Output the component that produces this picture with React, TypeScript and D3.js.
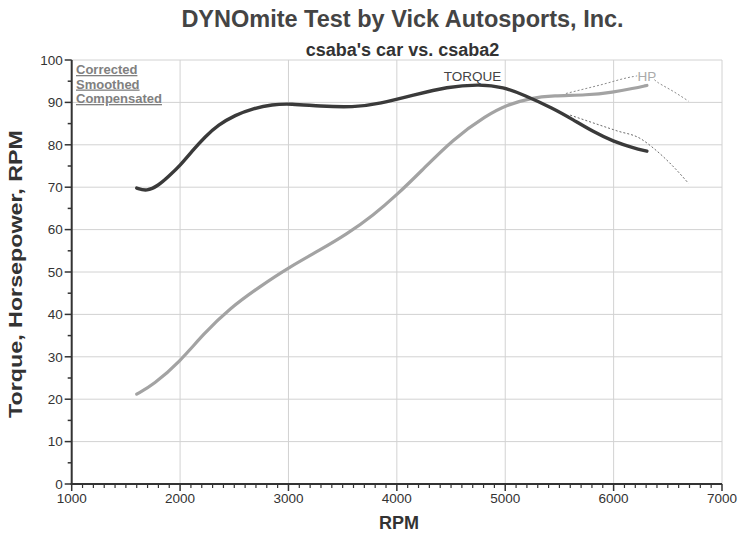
import React from "react";
import * as d3 from "d3";

const W = 750;
const H = 541;

const xTicks = [1000, 2000, 3000, 4000, 5000, 6000, 7000];
const yTicks = [0, 10, 20, 30, 40, 50, 60, 70, 80, 90, 100];
const legendLabels = ["Corrected", "Smoothed", "Compensated"];

const torqueRpm = [1600, 1692, 1800, 1892, 2000, 2107, 2230, 2353, 2507, 2676, 2850, 3015, 3292, 3596, 3845, 4153, 4461, 4768, 4984, 5168, 5442, 5627, 5811, 5996, 6181, 6307];
const torqueVal = [69.8, 69.0, 70.4, 72.5, 75.1, 78.4, 81.9, 84.7, 87.0, 88.6, 89.5, 89.7, 89.1, 88.8, 89.7, 91.7, 93.7, 94.3, 93.6, 91.8, 88.6, 85.9, 83.1, 80.8, 79.3, 78.5];

const hpRpm = [1600, 1753, 2000, 2215, 2461, 2738, 3005, 3292, 3538, 3784, 4000, 4218, 4520, 4830, 5015, 5230, 5442, 5753, 5996, 6181, 6307];
const hpVal = [21.2, 23.4, 28.9, 35.4, 41.5, 46.6, 51.1, 55.2, 58.9, 63.4, 68.2, 73.6, 81.4, 87.0, 89.4, 91.0, 91.6, 91.7, 92.4, 93.3, 94.0];

const hp2Rpm = [5560, 5875, 6183, 6300, 6414, 6550, 6691];
const hp2Val = [92.1, 94.1, 96.1, 96.5, 94.6, 92.6, 90.3];

const tq2Rpm = [5599, 6030, 6245, 6368, 6553, 6691];
const tq2Val = [87.0, 83.3, 81.5, 79.2, 74.8, 70.9];

const FONT = "Liberation Sans, Arial, sans-serif";

export default function App() {
  const x = d3.scaleLinear().domain([1000, 7000]).range([71.7, 722]);
  const y = d3.scaleLinear().domain([0, 100]).range([484, 60]);

  const smooth = d3
    .line<[number, number]>()
    .x((d) => x(d[0]))
    .y((d) => y(d[1]))
    .curve(d3.curveBasis);

  const dotted = d3
    .line<[number, number]>()
    .x((d) => x(d[0]))
    .y((d) => y(d[1]))
    .curve(d3.curveMonotoneX);

  const zip = (a: number[], b: number[]) => a.map((v, i) => [v, b[i]] as [number, number]);

  const minorX = d3.range(1000, 7001, 100).filter((v) => v % 1000 !== 0);
  const minorY = d3.range(5, 100, 10);

  const [x0, x1] = x.range();
  const [y0, y1] = y.range();

  return (
    <svg width={W} height={H} style={{ position: "absolute", left: 0, top: 0, background: "#fff" }} fontFamily={FONT}>
      <rect x={0} y={0} width={W} height={H} fill="#fff" />
      {/* grid */}
      {xTicks.map((t) => (
        <line key={"gx" + t} x1={x(t)} x2={x(t)} y1={y1} y2={y0} stroke="#d2d2d2" strokeWidth={1} />
      ))}
      {yTicks.map((t) => (
        <line key={"gy" + t} x1={x0} x2={x1} y1={y(t)} y2={y(t)} stroke="#d2d2d2" strokeWidth={1} />
      ))}
      {/* axes */}
      <line x1={x0} x2={x0} y1={y1} y2={y0 + 1} stroke="#333" strokeWidth={2} />
      <line x1={x0 - 1} x2={x1} y1={y0} y2={y0} stroke="#333" strokeWidth={2} />
      {yTicks.map((t) => (
        <g key={"ty" + t}>
          <line x1={x0 - 7} x2={x0} y1={y(t)} y2={y(t)} stroke="#333" strokeWidth={1.5} />
          <text x={x0 - 9} y={y(t) + 4.8} textAnchor="end" fontSize={13.5} fill="#333">
            {t}
          </text>
        </g>
      ))}
      {minorY.map((t) => (
        <line key={"my" + t} x1={x0 - 4} x2={x0} y1={y(t)} y2={y(t)} stroke="#333" strokeWidth={1.5} />
      ))}
      {xTicks.map((t) => (
        <g key={"tx" + t}>
          <line x1={x(t)} x2={x(t)} y1={y0} y2={y0 + 7} stroke="#333" strokeWidth={1.5} />
          <text x={x(t)} y={y0 + 18.5} textAnchor="middle" fontSize={13.5} fill="#333">
            {t}
          </text>
        </g>
      ))}
      {minorX.map((t) => (
        <line key={"mx" + t} x1={x(t)} x2={x(t)} y1={y0} y2={y0 + 4} stroke="#333" strokeWidth={1.2} />
      ))}
      {/* dotted second run */}
      <path d={dotted(zip(hp2Rpm, hp2Val)) || ""} fill="none" stroke="#8a8a8a" strokeWidth={1} strokeDasharray="2,2" />
      <path d={dotted(zip(tq2Rpm, tq2Val)) || ""} fill="none" stroke="#6a6a6a" strokeWidth={1} strokeDasharray="2,2" />
      {/* main curves */}
      <path d={smooth(zip(hpRpm, hpVal)) || ""} fill="none" stroke="#a3a3a3" strokeWidth={3.2} strokeLinecap="round" />
      <path d={smooth(zip(torqueRpm, torqueVal)) || ""} fill="none" stroke="#3a3a3a" strokeWidth={3.4} strokeLinecap="round" />
      {/* curve labels */}
      <text x={472.5} y={80.5} textAnchor="middle" fontSize={13.5} fill="#444">
        TORQUE
      </text>
      <text x={647} y={80.5} textAnchor="middle" fontSize={13.5} fill="#aaa" stroke="#fff" strokeWidth={3} paintOrder="stroke">
        HP
      </text>
      {/* legend */}
      {legendLabels.map((l, i) => (
        <text key={l} x={76} y={74 + i * 14.5} fontSize={13} fontWeight="bold" fill="#808080" textDecoration="underline">
          {l}
        </text>
      ))}
      {/* titles */}
      <text x={402.5} y={26.7} textAnchor="middle" fontSize={23.5} fontWeight="bold" fill="#444">
        DYNOmite Test by Vick Autosports, Inc.
      </text>
      <text x={402.5} y={55.5} textAnchor="middle" fontSize={18} fontWeight="bold" fill="#333">
        csaba's car vs. csaba2
      </text>
      <text x={399} y={529} textAnchor="middle" fontSize={18} fontWeight="bold" fill="#333">
        RPM
      </text>
      <text
        transform="translate(22,274) rotate(-90)"
        textAnchor="middle"
        fontSize={18}
        fontWeight="bold"
        fill="#333"
        textLength={288}
        lengthAdjust="spacingAndGlyphs"
      >
        Torque, Horsepower, RPM
      </text>
    </svg>
  );
}
